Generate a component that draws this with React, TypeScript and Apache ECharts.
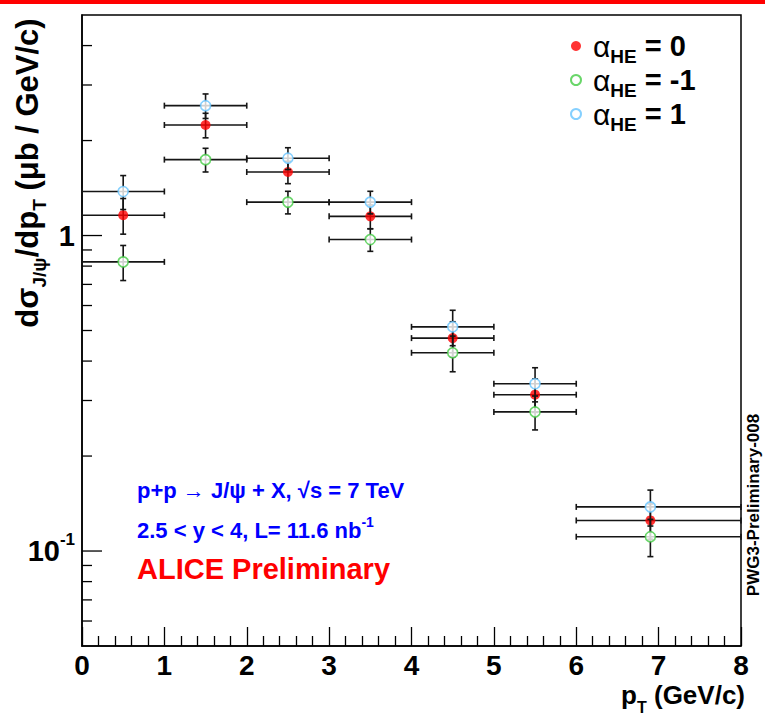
import React, { useEffect, useRef } from 'react';
import * as echarts from 'echarts';

// ---------- data ----------
const ptCenters = [0.5, 1.5, 2.5, 3.5, 4.5, 5.5, 6.9];
const ptLow = [0, 1, 2, 3, 4, 5, 6];
const ptHigh = [1, 2, 3, 4, 5, 6, 8];

const sigmaAlpha0 = [1.16, 2.24, 1.59, 1.15, 0.473, 0.313, 0.125];
const errAlpha0 = [0.15, 0.2, 0.13, 0.1, 0.06, 0.038, 0.016];

const sigmaAlphaM1 = [0.825, 1.74, 1.276, 0.971, 0.425, 0.276, 0.111];
const errAlphaM1 = [0.105, 0.15, 0.105, 0.08, 0.055, 0.034, 0.015];

const sigmaAlphaP1 = [1.379, 2.58, 1.758, 1.276, 0.5135, 0.339, 0.138];
const errAlphaP1 = [0.17, 0.23, 0.14, 0.105, 0.066, 0.042, 0.018];

const xTickLabels = ['0', '1', '2', '3', '4', '5', '6', '7', '8'];
const yTickValues = [0.06, 0.07, 0.08, 0.09, 0.1, 0.2, 0.3, 0.4, 0.5, 0.6, 0.7, 0.8, 0.9, 1, 2, 3, 4];
const legendNames = ['α_HE = 0', 'α_HE = -1', 'α_HE = 1'];
const legendRich = ['{a|α}{s|HE}{b| = 0}', '{a|α}{s|HE}{b| = -1}', '{a|α}{s|HE}{b| = 1}'];

const FONT = "'Liberation Sans', Arial, Helvetica, sans-serif";

function errorSeries(name: string, vals: number[], errs: number[], z: number) {
  return {
    type: 'custom',
    name,
    coordinateSystem: 'cartesian2d',
    z,
    silent: true,
    clip: false,
    encode: { x: 0, y: 1 },
    data: ptCenters.map((x, i) => [x, vals[i], ptLow[i], ptHigh[i], vals[i] - errs[i], vals[i] + errs[i]]),
    renderItem: (_p: any, api: any) => {
      const x = api.value(0);
      const y = api.value(1);
      const l = api.coord([api.value(2), y]);
      const r = api.coord([api.value(3), y]);
      const b = api.coord([x, api.value(4)]);
      const t = api.coord([x, api.value(5)]);
      const c = 3;
      const st = { stroke: '#151515', lineWidth: 1.6 };
      const ln = (x1: number, y1: number, x2: number, y2: number) => ({
        type: 'line',
        shape: { x1, y1, x2, y2 },
        style: st,
      });
      return {
        type: 'group',
        children: [
          ln(l[0], l[1], r[0], r[1]),
          ln(l[0], l[1] - c, l[0], l[1] + c),
          ln(r[0], r[1] - c, r[0], r[1] + c),
          ln(b[0], b[1], t[0], t[1]),
          ln(b[0] - c, b[1], b[0] + c, b[1]),
          ln(t[0] - c, t[1], t[0] + c, t[1]),
        ],
      };
    },
  };
}

function markerSeries(name: string, vals: number[], itemStyle: any, z: number) {
  return {
    type: 'scatter',
    name,
    z,
    symbol: 'circle',
    symbolSize: 10,
    itemStyle,
    data: ptCenters.map((x, i) => [x, vals[i]]),
  };
}

export default function App() {
  const ref = useRef<HTMLDivElement>(null);
  useEffect(() => {
    document.body.style.margin = '0';
    if (!ref.current) return;
    const chart = echarts.init(ref.current, undefined, { renderer: 'svg' });

    const redStyle = { color: '#ff0000', borderColor: '#ff0000', borderWidth: 0 };
    const greenStyle = { color: '#ffffff', borderColor: '#44cc44', borderWidth: 1.6 };
    const blueStyle = { color: '#ffffff', borderColor: '#66c4ff', borderWidth: 1.6 };

    const option: any = {
      animation: false,
      backgroundColor: '#ffffff',
      textStyle: { fontFamily: FONT },
      grid: {
        left: 82,
        right: 24,
        top: 15,
        bottom: 69,
        show: true,
        borderColor: '#000',
        borderWidth: 1.5,
        outerBoundsMode: 'none',
      },
      xAxis: {
        type: 'value',
        min: 0,
        max: 8,
        interval: 1,
        axisLine: { show: true, lineStyle: { color: '#000', width: 1.5 } },
        axisTick: { show: true, inside: true, length: 19, lineStyle: { color: '#000', width: 1.3 } },
        minorTick: { show: true, splitNumber: 5, length: 10, lineStyle: { color: '#000', width: 1.3 } },
        splitLine: { show: false },
        axisLabel: {
          margin: 5,
          color: '#000',
          fontSize: 28,
          fontWeight: 'bold',
          fontFamily: FONT,
          formatter: (v: number) => xTickLabels[Math.round(v)] ?? '',
        },
      },
      yAxis: {
        type: 'log',
        logBase: 10,
        min: 0.05,
        max: 5,
        axisLine: { show: true, lineStyle: { color: '#000', width: 1.5 } },
        axisTick: { show: false },
        splitLine: { show: false },
        axisLabel: {
          margin: 7,
          color: '#000',
          fontFamily: FONT,
          showMinLabel: false,
          showMaxLabel: false,
          formatter: (v: number) => {
            const l = Math.log10(v);
            if (Math.abs(l) < 1e-6) return '{m|1}';
            if (Math.abs(l + 1) < 1e-6) return '{m|10}{s|-1}';
            return '';
          },
          rich: {
            m: { fontSize: 29, fontWeight: 'bold', lineHeight: 40, color: '#000', fontFamily: FONT },
            s: { fontSize: 17, fontWeight: 'bold', lineHeight: 20, verticalAlign: 'top', color: '#000', fontFamily: FONT },
          },
        },
      },
      legend: {
        show: true,
        orient: 'vertical',
        left: 565,
        top: 26,
        itemWidth: 24,
        itemHeight: 10,
        itemGap: -1,
        selectedMode: false,
        data: legendNames,
        formatter: (name: string) => legendRich[legendNames.indexOf(name)],
        textStyle: {
          rich: {
            a: { fontSize: 30, lineHeight: 40, color: '#000', fontFamily: FONT },
            s: { fontSize: 19, fontWeight: 'bold', lineHeight: 18, verticalAlign: 'bottom', color: '#000', fontFamily: FONT },
            b: { fontSize: 29, fontWeight: 'bold', lineHeight: 40, color: '#000', fontFamily: FONT },
          },
        },
      },
      series: [
        {
          type: 'custom',
          name: 'yticks',
          coordinateSystem: 'cartesian2d',
          silent: true,
          clip: false,
          z: 10,
          encode: { x: 0, y: 1 },
          data: yTickValues.map((v) => [0, v]),
          renderItem: (_p: any, api: any) => {
            const v = api.value(1);
            const lg = Math.log10(v);
            const major = Math.abs(lg - Math.round(lg)) < 1e-6;
            const p = api.coord([0, v]);
            const len = major ? 20 : 10;
            return {
              type: 'line',
              shape: { x1: p[0], y1: p[1], x2: p[0] + len, y2: p[1] },
              style: { stroke: '#000', lineWidth: 1.3 },
            };
          },
        },
        errorSeries('err0', sigmaAlpha0, errAlpha0, 2),
        markerSeries(legendNames[0], sigmaAlpha0, redStyle, 3),
        errorSeries('errm1', sigmaAlphaM1, errAlphaM1, 4),
        markerSeries(legendNames[1], sigmaAlphaM1, greenStyle, 5),
        errorSeries('errp1', sigmaAlphaP1, errAlphaP1, 6),
        markerSeries(legendNames[2], sigmaAlphaP1, blueStyle, 7),
      ],
      graphic: [
        { type: 'rect', left: 0, top: 0, shape: { width: 765, height: 4 }, style: { fill: '#ff0000' }, silent: true },
        {
          type: 'text',
          x: 27,
          y: 173,
          rotation: Math.PI / 2,
          style: {
            text: '{m|dσ}{s|J/ψ}{m|/dp}{s|T}{m| (μb / GeV/c)}',
            align: 'center',
            verticalAlign: 'middle',
            rich: {
              m: { fontSize: 31, fontWeight: 'bold', lineHeight: 44, fill: '#000', fontFamily: FONT },
              s: { fontSize: 19, fontWeight: 'bold', lineHeight: 26, verticalAlign: 'bottom', fill: '#000', fontFamily: FONT },
            },
          },
        },
        {
          type: 'text',
          x: 745,
          y: 695,
          style: {
            text: '{m|p}{s|T}{m| (GeV/c)}',
            align: 'right',
            verticalAlign: 'middle',
            rich: {
              m: { fontSize: 26, fontWeight: 'bold', lineHeight: 40, fill: '#000', fontFamily: FONT },
              s: { fontSize: 16, fontWeight: 'bold', lineHeight: 24, verticalAlign: 'bottom', fill: '#000', fontFamily: FONT },
            },
          },
        },
        {
          type: 'text',
          x: 137,
          y: 490,
          style: {
            text: 'p+p → J/ψ + X, √s = 7 TeV',
            fill: '#0000ff',
            fontSize: 22,
            fontWeight: 'bold',
            fontFamily: FONT,
            align: 'left',
            verticalAlign: 'middle',
          },
        },
        {
          type: 'text',
          x: 137,
          y: 530,
          style: {
            text: '{m|2.5 < y < 4, L= 11.6 nb}{s|-1}',
            align: 'left',
            verticalAlign: 'middle',
            rich: {
              m: { fontSize: 22, fontWeight: 'bold', lineHeight: 30, fill: '#0000ff', fontFamily: FONT },
              s: { fontSize: 14, fontWeight: 'bold', lineHeight: 14, verticalAlign: 'top', fill: '#0000ff', fontFamily: FONT },
            },
          },
        },
        {
          type: 'text',
          x: 137,
          y: 569,
          style: {
            text: 'ALICE Preliminary',
            fill: '#ff0000',
            fontSize: 29,
            fontWeight: 'bold',
            fontFamily: FONT,
            align: 'left',
            verticalAlign: 'middle',
          },
        },
        {
          type: 'text',
          x: 753,
          y: 505,
          rotation: Math.PI / 2,
          style: {
            text: 'PWG3-Preliminary-008',
            fill: '#000',
            fontSize: 17,
            fontWeight: 'bold',
            fontFamily: FONT,
            align: 'center',
            verticalAlign: 'middle',
          },
        },
      ],
    };

    chart.setOption(option);
    return () => {
      chart.dispose();
    };
  }, []);

  return <div ref={ref} style={{ width: 765, height: 715 }} />;
}
